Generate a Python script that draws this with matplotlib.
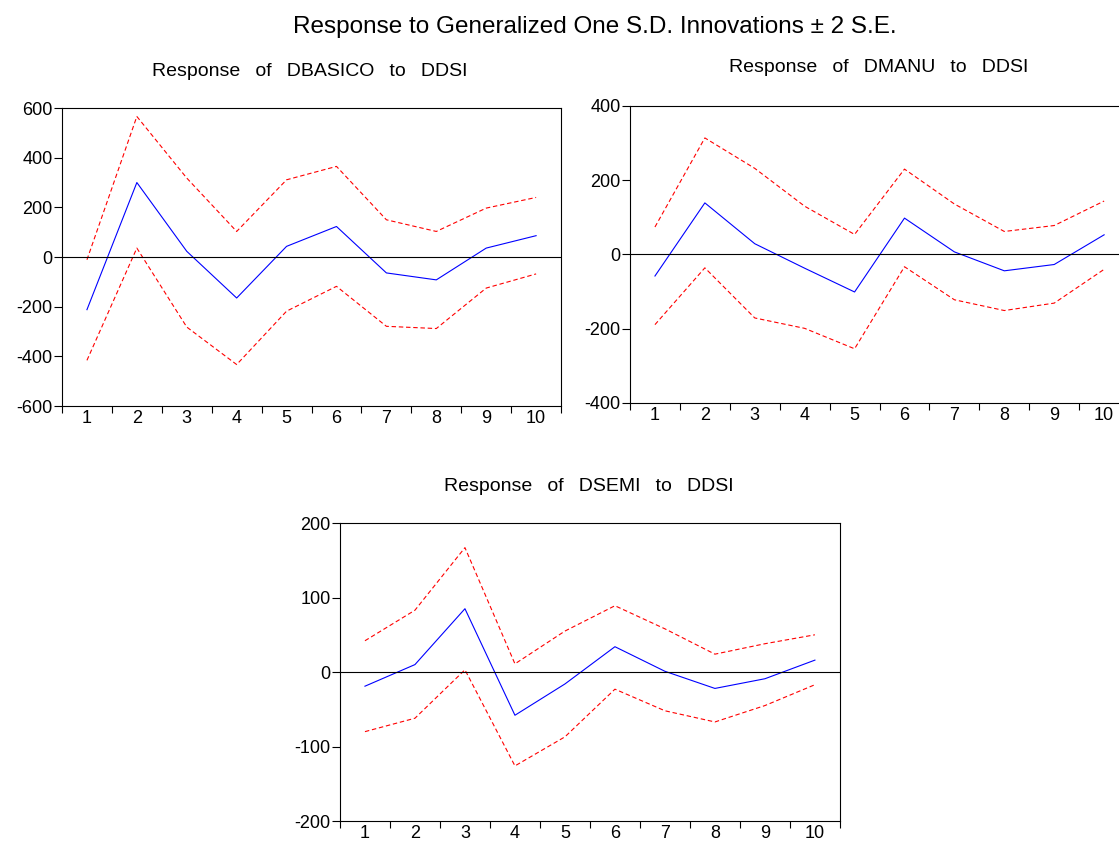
import matplotlib
matplotlib.use('Agg')
import matplotlib.pyplot as plt
import numpy as np

plt.rcParams['font.family'] = ['Liberation Sans', 'DejaVu Sans']

periods = np.arange(1, 11)

# Response of DBASICO to DDSI
basico_resp = [-212, 300, 23, -165, 43, 123, -64, -92, 36, 86]
basico_up = [-11, 566, 318, 103, 311, 365, 150, 103, 197, 240]
basico_lo = [-416, 36, -282, -433, -218, -118, -279, -288, -125, -68]

# Response of DMANU to DDSI
manu_resp = [-58, 139, 29, -37, -101, 98, 7, -44, -27, 53]
manu_up = [74, 314, 232, 130, 54, 230, 136, 62, 78, 144]
manu_lo = [-189, -36, -171, -199, -254, -33, -122, -151, -131, -40]

# Response of DSEMI to DDSI
semi_resp = [-19, 10, 85, -58, -16, 34, 1, -22, -9, 16]
semi_up = [42, 83, 167, 11, 55, 89, 58, 24, 38, 50]
semi_lo = [-80, -62, 3, -126, -87, -23, -52, -67, -45, -17]

panels = [
    ('Response of DBASICO to DDSI', basico_resp, basico_up, basico_lo,
     (-600, 600), [-600, -400, -200, 0, 200, 400, 600],
     [0.0554, 0.5212, 0.446, 0.3514]),
    ('Response of DMANU to DDSI', manu_resp, manu_up, manu_lo,
     (-400, 400), [-400, -200, 0, 200, 400],
     [0.563, 0.5248, 0.446, 0.3502]),
    ('Response of DSEMI to DDSI', semi_resp, semi_up, semi_lo,
     (-200, 200), [-200, -100, 0, 100, 200],
     [0.3038, 0.0318, 0.4468, 0.3514]),
]

W, H = 1119, 848
fig = plt.figure(figsize=(W / 100, H / 100), dpi=100)

fig.text(594.5 / W, 1 - 33 / H, 'Response to Generalized One S.D. Innovations \u00b1 2 S.E.',
         ha='center', va='baseline', fontsize=17.5)

# (center x, baseline y) of each panel title, in pixels
title_xy = [(309.7, 75.7), (878.4, 72), (589, 491)]

for (title, resp, up, lo, ylim, yticks, pos), (tx, ty) in zip(panels, title_xy):
    ax = fig.add_axes(pos)
    ax.plot(periods, up, color='red', linestyle=(0, (4, 2.5)), linewidth=0.8)
    ax.plot(periods, lo, color='red', linestyle=(0, (4, 2.5)), linewidth=0.8)
    ax.plot(periods, resp, color='blue', linewidth=0.8)
    ax.axhline(0, color='black', linewidth=0.8)
    ax.set_xlim(0.5, 10.5)
    ax.set_ylim(*ylim)
    ax.set_yticks(yticks)
    ax.set_yticklabels([str(v) for v in yticks])
    ax.set_xticks(periods)
    ax.set_xticklabels([str(p) for p in periods])
    ax.set_xticks(np.arange(0.5, 11, 1), minor=True)
    ax.tick_params(axis='x', which='major', length=0, pad=3, labelsize=13)
    ax.tick_params(axis='x', which='minor', length=5, direction='out', width=0.8)
    ax.tick_params(axis='y', length=5.8, direction='out', width=0.8, labelsize=13, pad=1)
    for s in ax.spines.values():
        s.set_linewidth(0.8)
    # wider word gaps as in the original
    fig.text(tx / W, 1 - ty / H, title.replace(' ', ' \u2002'),
             ha='center', va='baseline', fontsize=14)

fig.savefig('out.png', dpi=100)
